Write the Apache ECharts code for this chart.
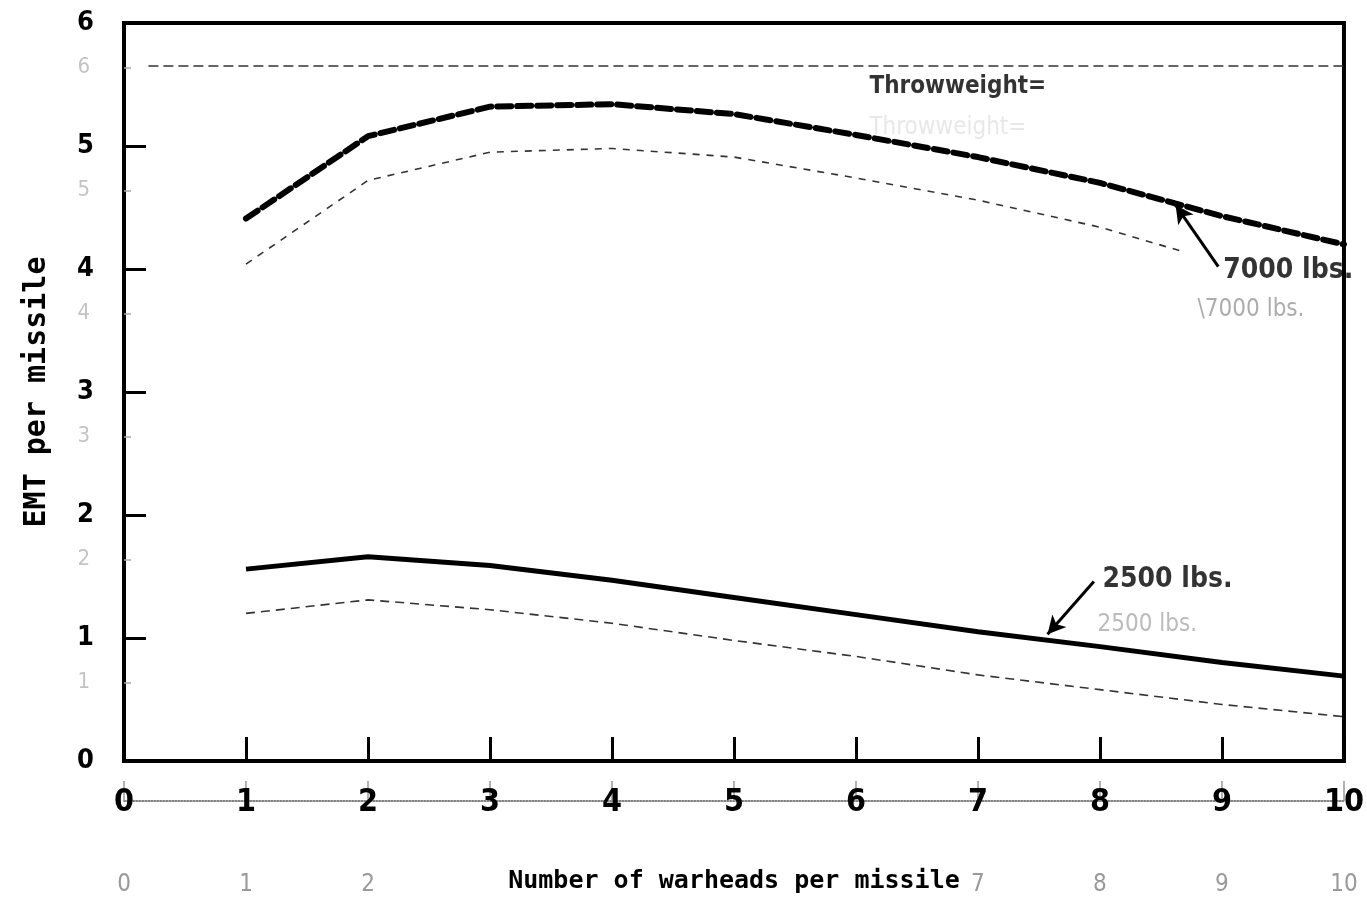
<!DOCTYPE html>
<html><head><meta charset="utf-8">
<script src="https://cdn.jsdelivr.net/npm/echarts@6/dist/echarts.min.js"></script>
<style>html,body{margin:0;padding:0;background:#fff}#c{width:1367px;height:902px}</style>
</head><body><div id="c"></div>
<script>
// ---- data ----
const warheads = [1, 2, 3, 4, 5, 6, 7, 8, 9, 10];
const emt7000 = [4.41, 5.08, 5.32, 5.34, 5.26, 5.09, 4.91, 4.70, 4.43, 4.20];
const emt2500 = [1.56, 1.66, 1.59, 1.47, 1.33, 1.19, 1.05, 0.93, 0.80, 0.69];
const ghostWarheads7000 = [1, 2, 3, 4, 5, 6, 7, 8, 8.65];
const emt7000Ghost = [4.04, 4.72, 4.95, 4.98, 4.91, 4.74, 4.56, 4.34, 4.15];
const emt2500Ghost = [1.20, 1.31, 1.23, 1.12, 0.98, 0.85, 0.70, 0.58, 0.46, 0.36];
const ghostFrameX = [0.2, 10];
const ghostFrameY = [5.65, 5.65];
const yGhostLabels = [1, 2, 3, 4, 5, 6];
const xGhostLabels = [0, 1, 2, 7, 8, 9, 10];
const xAxisTitle = 'Number of warheads per missile';
const yAxisTitle = 'EMT per missile';
const annotationTexts = ['Throwweight=', '7000 lbs.', '2500 lbs.'];
const ghostAnnotationTexts = ['Throwweight=', '\\7000 lbs.', '2500 lbs.'];

const pairs = (xs, ys) => xs.map((x, i) => [x, ys[i]]);
const NARROW = '"Liberation Sans Narrow", "DejaVu Sans Condensed", sans-serif';
const MONO = '"DejaVu Sans Mono", "Liberation Mono", monospace';

const chart = echarts.init(document.getElementById('c'), null, {renderer: 'canvas'});
const option = {
  animation: false,
  backgroundColor: '#fff',
  grid: {left: 124, right: 23, top: 23, bottom: 141, show: true, borderColor: '#000', borderWidth: 4, backgroundColor: 'transparent'},
  xAxis: [
    {
      type: 'value', min: 0, max: 10, interval: 1, position: 'bottom',
      axisLine: {lineStyle: {color: '#000', width: 4}},
      axisTick: {inside: true, length: 24, lineStyle: {color: '#000', width: 3}},
      axisLabel: {margin: 26, color: '#000', fontFamily: NARROW, fontWeight: 'bold', fontSize: 32},
      splitLine: {show: false},
      name: xAxisTitle, nameLocation: 'middle', nameGap: 108,
      nameTextStyle: {color: '#000', fontFamily: MONO, fontWeight: 'bold', fontSize: 25}
    },
    {
      type: 'value', min: 0, max: 10, interval: 1, position: 'bottom', offset: 40,
      axisLine: {lineStyle: {color: '#555', width: 1.5, type: 'dotted'}},
      axisTick: {inside: true, length: 20, lineStyle: {color: '#999', width: 1.5}},
      axisLabel: {margin: 72, color: '#9a9a9a', fontFamily: NARROW, fontSize: 24, customValues: xGhostLabels},
      splitLine: {show: false}
    }
  ],
  yAxis: [
    {
      type: 'value', min: 0, max: 6, interval: 1, position: 'left',
      axisLine: {lineStyle: {color: '#000', width: 4}},
      axisTick: {inside: true, length: 22, lineStyle: {color: '#000', width: 3}},
      axisLabel: {margin: 30, color: '#000', fontFamily: '"DejaVu Sans Condensed", "DejaVu Sans", sans-serif', fontWeight: 'bold', fontSize: 27},
      splitLine: {show: false},
      name: yAxisTitle, nameLocation: 'middle', nameGap: 72, nameRotate: 90,
      nameTextStyle: {color: '#000', fontFamily: MONO, fontWeight: 'bold', fontSize: 30}
    },
    {
      type: 'value', min: 0.36, max: 6.36, position: 'left',
      axisLine: {show: false},
      axisTick: {show: true, inside: true, length: 7, customValues: yGhostLabels, lineStyle: {color: '#aaa', width: 1.5}},
      axisLabel: {margin: 34, color: '#c4c4c4', fontFamily: '"DejaVu Sans Condensed", sans-serif', fontSize: 22, customValues: yGhostLabels},
      splitLine: {show: false}
    }
  ],
  series: [
    {
      name: 'Throwweight 7000 lbs.', type: 'line', xAxisIndex: 0, yAxisIndex: 0,
      data: pairs(warheads, emt7000), symbol: 'none', silent: true,
      lineStyle: {color: '#000', width: 6, type: [14, 6], cap: 'round'},
      markLine: {
        silent: true, symbol: ['none', 'arrow'], symbolSize: [14, 18], label: {show: false},
        lineStyle: {color: '#000', width: 3, type: 'solid'},
        data: [[{coord: [8.97, 4.02]}, {coord: [8.62, 4.52]}]]
      }
    },
    {
      name: 'ghost 7000', type: 'line', xAxisIndex: 0, yAxisIndex: 0,
      data: pairs(ghostWarheads7000, emt7000Ghost), symbol: 'none', silent: true,
      lineStyle: {color: '#333', width: 1.6, type: [7, 7]}
    },
    {
      name: 'Throwweight 2500 lbs.', type: 'line', xAxisIndex: 0, yAxisIndex: 0,
      data: pairs(warheads, emt2500), symbol: 'none', silent: true,
      lineStyle: {color: '#000', width: 5, type: 'solid'},
      markLine: {
        silent: true, symbol: ['none', 'arrow'], symbolSize: [14, 18], label: {show: false},
        lineStyle: {color: '#000', width: 3, type: 'solid'},
        data: [[{coord: [7.95, 1.46]}, {coord: [7.57, 1.03]}]]
      }
    },
    {
      name: 'ghost 2500', type: 'line', xAxisIndex: 0, yAxisIndex: 0,
      data: pairs(warheads, emt2500Ghost), symbol: 'none', silent: true,
      lineStyle: {color: '#333', width: 1.6, type: [9, 6]}
    },
    {
      name: 'ghost frame', type: 'line', xAxisIndex: 0, yAxisIndex: 0,
      data: pairs(ghostFrameX, ghostFrameY), symbol: 'none', silent: true,
      lineStyle: {color: '#333', width: 1.5, type: [10, 5]}
    },
    {
      name: 'annotations', type: 'scatter', xAxisIndex: 0, yAxisIndex: 0, symbolSize: 0, silent: true,
      itemStyle: {color: '#000'},
      label: {show: true, position: 'right', distance: 0, color: '#000', fontFamily: NARROW, fontWeight: 'bold', fontSize: 24,
        formatter: p => annotationTexts[p.dataIndex]},
      data: [
        {value: [6.11, 5.48], label: {color: '#000'}},
        {value: [9.01, 3.99], label: {fontSize: 28, color: '#000'}},
        {value: [8.02, 1.47], label: {fontSize: 28, color: '#000'}}
      ]
    },
    {
      name: 'ghost annotations', type: 'scatter', xAxisIndex: 0, yAxisIndex: 0, symbolSize: 0, silent: true,
      label: {show: true, position: 'right', distance: 0, color: '#c8c8c8', fontFamily: NARROW, fontSize: 24,
        formatter: p => ghostAnnotationTexts[p.dataIndex]},
      data: [
        {value: [6.11, 5.15], label: {color: '#e2e2e2'}},
        {value: [8.8, 3.67], label: {color: '#999'}},
        {value: [7.98, 1.11], label: {color: '#aaa'}}
      ]
    }
  ]
};
chart.setOption(option);
</script>
</body></html>
